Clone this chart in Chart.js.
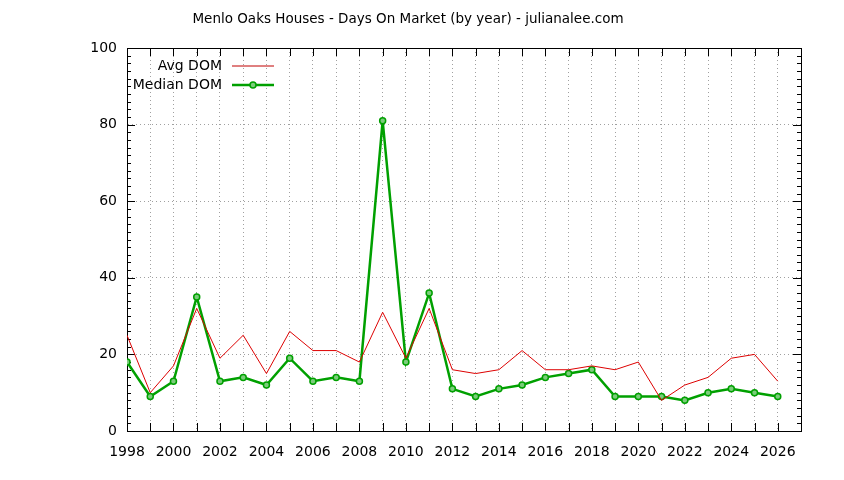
<!DOCTYPE html>
<html>
<head>
<meta charset="utf-8">
<script src="https://cdn.jsdelivr.net/npm/chart.js@4/dist/chart.umd.min.js"></script>
<style>
  html, body { margin: 0; padding: 0; background: #fff; }
  #wrap { width: 844px; height: 480px; }
</style>
</head>
<body>
<div id="wrap"><canvas id="domChart" width="844" height="480"></canvas></div>
<script>
const years = [1998, 1999, 2000, 2001, 2002, 2003, 2004, 2005, 2006, 2007,
               2008, 2009, 2010, 2011, 2012, 2013, 2014, 2015, 2016, 2017,
               2018, 2019, 2020, 2021, 2022, 2023, 2024, 2025, 2026];
const avgDom = [25, 10, 17, 32, 19, 25, 15, 26, 21, 21,
                18, 31, 19, 32, 16, 15, 16, 21, 16, 16,
                17, 16, 18, 8, 12, 14, 19, 20, 13];
const medianDom = [18, 9, 13, 35, 13, 14, 12, 19, 13, 14,
                   13, 81, 18, 36, 11, 9, 11, 12, 14, 15,
                   16, 9, 9, 9, 8, 10, 11, 10, 9];
const seriesNames = ['Avg DOM', 'Median DOM'];
const yLabels = [0, 20, 40, 60, 80, 100];
const xLabels = [1998, 2000, 2002, 2004, 2006, 2008, 2010, 2012,
                 2014, 2016, 2018, 2020, 2022, 2024, 2026];
const titleText = 'Menlo Oaks Houses - Days On Market (by year) - julianalee.com';

const FONT = '"DejaVu Sans", sans-serif';
const RED = '#dd0000';
const GREEN = '#00a000';
const GRID = '#a0a0a0';

// gnuplot-like frame, inward ticks, title and key
const gnuplotBits = {
  id: 'gnuplotBits',
  beforeDatasetsDraw(chart) {
    const { ctx, chartArea: a, scales: { x, y } } = chart;
    ctx.save();
    ctx.strokeStyle = '#000';
    ctx.lineWidth = 1;
    ctx.beginPath();
    for (let v = 1998; v <= 2027; v++) {
      const px = Math.round(x.getPixelForValue(v)) + 0.5;
      ctx.moveTo(px, a.bottom); ctx.lineTo(px, a.bottom - 8);
      ctx.moveTo(px, a.top); ctx.lineTo(px, a.top + 8);
    }
    for (let v = 0; v <= 100; v += 2) {
      const py = Math.round(y.getPixelForValue(v)) + 0.5;
      const len = v % 20 === 0 ? 8 : 4;
      ctx.moveTo(a.left, py); ctx.lineTo(a.left + len, py);
      ctx.moveTo(a.right, py); ctx.lineTo(a.right - len, py);
    }
    ctx.stroke();
    ctx.strokeRect(Math.round(a.left) + 0.5, Math.round(a.top) + 0.5,
                   Math.round(a.right - a.left), Math.round(a.bottom - a.top));
    ctx.restore();
  },
  afterDraw(chart) {
    const { ctx } = chart;
    ctx.save();
    ctx.fillStyle = '#000';
    ctx.font = '13.5px ' + FONT;
    ctx.textAlign = 'center';
    ctx.textBaseline = 'middle';
    ctx.fillText(titleText, 408, 19);

    ctx.font = '14px ' + FONT;
    ctx.textAlign = 'right';
    const rows = [66, 85];
    chart.data.datasets.forEach((ds, i) => {
      const ry = rows[i];
      ctx.fillStyle = '#000';
      ctx.fillText(ds.label, 222, ry);
      ctx.strokeStyle = i === 0 ? '#c00000' : ds.borderColor;
      ctx.lineWidth = ds.borderWidth;
      ctx.beginPath();
      ctx.moveTo(232, ry); ctx.lineTo(274, ry);
      ctx.stroke();
      if (ds.pointRadius > 0) {
        ctx.fillStyle = ds.pointBackgroundColor;
        ctx.strokeStyle = ds.pointBorderColor;
        ctx.lineWidth = ds.pointBorderWidth;
        ctx.beginPath();
        ctx.arc(253, ry, ds.pointRadius, 0, Math.PI * 2);
        ctx.fill();
        ctx.stroke();
      }
    });
    ctx.restore();
  }
};

const ctx = document.getElementById('domChart').getContext('2d');
new Chart(ctx, {
  type: 'line',
  data: {
    datasets: [{
      label: seriesNames[0],
      data: years.map((yr, i) => ({ x: yr, y: avgDom[i] })),
      borderColor: RED,
      borderWidth: 1,
      pointRadius: 0,
      tension: 0
    }, {
      label: seriesNames[1],
      data: years.map((yr, i) => ({ x: yr, y: medianDom[i] })),
      borderColor: GREEN,
      borderWidth: 2.5,
      pointRadius: 3,
      pointBackgroundColor: '#7ccc7c',
      pointBorderColor: GREEN,
      pointBorderWidth: 1.5,
      tension: 0
    }]
  },
  options: {
    responsive: false,
    animation: false,
    layout: { padding: { top: 48, right: 43, left: 0, bottom: 0 } },
    plugins: {
      legend: { display: false },
      title: { display: false },
      tooltip: { enabled: false }
    },
    scales: {
      x: {
        type: 'linear',
        min: 1998,
        max: 2027,
        afterBuildTicks(scale) {
          scale.ticks = years.concat([2027]).map(v => ({ value: v }));
        },
        afterFit(scale) { scale.height = 49; },
        grid: {
          drawTicks: false,
          color: c => (c.tick && c.tick.value > 1998 && c.tick.value < 2027) ? GRID : 'rgba(0,0,0,0)'
        },
        border: { display: true, color: '#000', width: 1, dash: [1, 3] },
        ticks: {
          autoSkip: false,
          maxRotation: 0,
          padding: 13,
          color: '#000',
          font: { family: FONT, size: 14 },
          callback: v => xLabels.includes(v) ? String(v) : ''
        }
      },
      y: {
        min: 0,
        max: 100,
        afterBuildTicks(scale) {
          const t = [];
          for (let v = 0; v <= 100; v += 2) t.push({ value: v });
          scale.ticks = t;
        },
        afterFit(scale) { scale.width = 127; },
        grid: {
          drawTicks: false,
          color: c => (c.tick && c.tick.value % 20 === 0 && c.tick.value > 0 && c.tick.value < 100) ? GRID : 'rgba(0,0,0,0)'
        },
        border: { display: true, color: '#000', width: 1, dash: [1, 3] },
        ticks: {
          autoSkip: false,
          padding: 10,
          color: '#000',
          font: { family: FONT, size: 14 },
          callback: v => yLabels.includes(v) ? String(v) : ''
        }
      }
    }
  },
  plugins: [gnuplotBits]
});
</script>
</body>
</html>
